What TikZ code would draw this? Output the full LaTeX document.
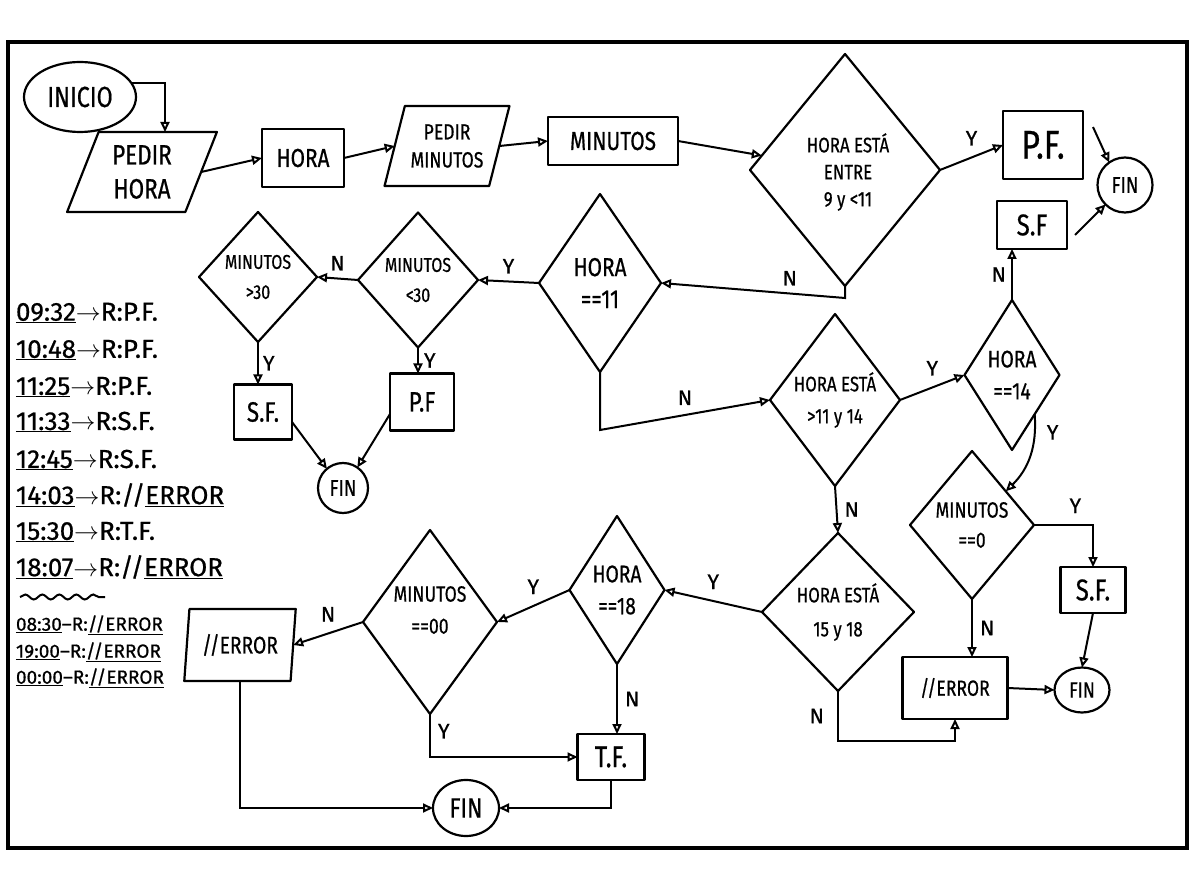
\documentclass[tikz,border=0pt]{standalone}
\usepackage{fontspec}
\setmainfont{Fira Sans}[FakeBold=0.6]
\newfontfamily\cond{Fira Sans}[FakeStretch=0.8, FakeBold=0.6]
\usetikzlibrary{shapes.geometric, arrows.meta, decorations.pathmorphing}
\newcommand\myfs[2]{\fontsize{#1}{#2}\selectfont}
\begin{document}
\begin{tikzpicture}[x=1pt,y=-1pt,
  every node/.style={inner sep=0pt, outer sep=0pt},
  shp/.style={draw, line width=2.2pt, line join=round},
  dia/.style={shp, diamond},
  box/.style={shp, rectangle},
  para/.style={shp, trapezium, trapezium stretches=true, trapezium left angle=68, trapezium right angle=112},
  term/.style={shp, ellipse},
  arr/.style={line width=2pt, -{Triangle[open, length=10pt, width=9pt]}},
  lab/.style={font=\myfs{21}{21}},
  dtxt/.style={align=center},
  lst/.style={anchor=west, font=\myfs{26}{26}},
  lst2/.style={anchor=west, font=\myfs{19}{19}},
]
\fill[white] (0,0) rectangle (1200,874);
\useasboundingbox (0,0) rectangle (1200,874);
\draw[line width=3.5pt] (8,42) rectangle (1187,848);

% top row
\node[term, minimum width=112pt, minimum height=70pt, font=\cond\myfs{29}{32}] (ini) at (80,97) {INICIO};
\node[para, minimum width=150pt, minimum height=80pt, align=center, font=\cond\myfs{28}{34}] (ph) at (142,172) {PEDIR\\HORA};
\node[box, minimum width=82pt, minimum height=58pt, font=\cond\myfs{26}{26}] (hora) at (303,158) {HORA};
\node[para, minimum width=125pt, minimum height=80pt, align=center, font=\cond\myfs{22}{28}] (pm) at (447,146) {PEDIR\\MINUTOS};
\node[box, minimum width=130pt, minimum height=48pt, font=\cond\myfs{26}{26}] (min) at (613,141) {MINUTOS};
\node[dia, minimum width=190pt, minimum height=232pt] (d1) at (845,170) {};
\node[dtxt, font=\cond\myfs{21}{27}] (d1t) at (848,172) {HORA ESTÁ\\ENTRE\\9 y <11};
\node[box, minimum width=80pt, minimum height=68pt, font=\cond\myfs{40}{40}] (pf1) at (1043,145) {P.F.};
\node[term, minimum width=55pt, minimum height=55pt, font=\cond\myfs{23}{23}] (fin1) at (1125,185) {FIN};
\node[box, minimum width=70pt, minimum height=48pt, font=\cond\myfs{30}{30}] (sf1) at (1032,225) {S.F};

% second row left
\node[dia, minimum width=122pt, minimum height=178pt] (h11) at (600,283) {};
\node[dtxt, font=\cond\myfs{26}{32}] (h11t) at (h11) {HORA\\==11};
\node[dia, minimum width=120pt, minimum height=135pt] (m30l) at (418,280) {};
\node[dtxt, font=\cond\myfs{20}{30}] (m30lt) at (m30l) {MINUTOS\\<30};
\node[dia, minimum width=118pt, minimum height=130pt] (m30g) at (258,277) {};
\node[dtxt, font=\cond\myfs{20}{30}] (m30gt) at (m30g) {MINUTOS\\>30};
\node[box, minimum width=58pt, minimum height=55pt, font=\cond\myfs{28}{28}] (sf2) at (263,412) {S.F.};
\node[box, minimum width=64pt, minimum height=57pt, font=\cond\myfs{28}{28}] (pf2) at (422,402) {P.F};
\node[term, minimum width=50pt, minimum height=50pt, font=\cond\myfs{23}{23}] (fin2) at (343,488) {FIN};

% middle right
\node[dia, minimum width=130pt, minimum height=172pt] (d2) at (835,400) {};
\node[dtxt, font=\cond\myfs{21}{32}] (d2t) at (d2) {HORA ESTÁ\\>11 y 14};
\node[dia, minimum width=95pt, minimum height=150pt] (h14) at (1012,375) {};
\node[dtxt, font=\cond\myfs{24}{32}] (h14t) at (h14) {HORA\\==14};
\node[dia, minimum width=124pt, minimum height=148pt] (m0) at (972,525) {};
\node[dtxt, font=\cond\myfs{22}{30}] (m0t) at (m0) {MINUTOS\\==0};
\node[box, minimum width=65pt, minimum height=46pt, font=\cond\myfs{30}{30}] (sf3) at (1093,590) {S.F.};
\node[term, minimum width=55pt, minimum height=45pt, font=\cond\myfs{22}{22}] (fin3) at (1082,690) {FIN};
\node[box, minimum width=105pt, minimum height=62pt, font=\cond\myfs{22}{22}] (err1) at (955,688) {//ERROR};

% bottom row
\node[dia, minimum width=152pt, minimum height=158pt] (d3) at (838,612) {};
\node[dtxt, font=\cond\myfs{21}{34}] (d3t) at (d3) {HORA ESTÁ\\15 y 18};
\node[dia, minimum width=95pt, minimum height=148pt] (h18) at (617,590) {};
\node[dtxt, font=\cond\myfs{24}{32}] (h18t) at (h18) {HORA\\==18};
\node[dia, minimum width=134pt, minimum height=184pt] (m00) at (430,622) {};
\node[dtxt, font=\cond\myfs{22}{32}] (m00t) at ([yshift=12pt]m00.center) {MINUTOS\\==00};
\node[shp, trapezium, trapezium stretches=true, trapezium left angle=80, trapezium right angle=100, minimum width=112pt, minimum height=72pt, font=\cond\myfs{24}{24}] (err2) at (240,645) {//ERROR};
\node[box, minimum width=67pt, minimum height=46pt, font=\cond\myfs{30}{30}] (tf) at (611,757) {T.F.};
\node[term, minimum width=66pt, minimum height=56pt, font=\cond\myfs{28}{28}] (fin4) at (466,808) {FIN};

% connectors
\draw[arr] (ini.15) -| ([xshift=23pt]ph.north);
\draw[arr] (ph.east) -- (hora.west);
\draw[arr] (hora.east) -- (pm.west);
\draw[arr] (pm.east) -- (min.west);
\draw[arr] (min.east) -- (d1);
\draw[arr] (d1.east) -- node[lab, above=12pt] (ly1) {Y} (pf1.west);
\draw[arr] ([shift={(10pt,-16pt)}]pf1.north east) -- (fin1.125);
\draw[arr] ([shift={(8pt,-10pt)}]sf1.east) -- (fin1.225);
\draw[arr] (h14.north) -- node[lab, left=6pt] (ln1) {N} (h14.north |- sf1.south);
\draw[arr] (d1.south) -- ++(0,12) -- node[lab, above=8pt, pos=0.3] (ln2) {N} (h11.east);
\draw[arr] (h11.west) -- node[lab, above=8pt] (ly2) {Y} (m30l.east);
\draw[arr] (m30l.west) -- node[lab, above=8pt] (ln3) {N} (m30g.east);
\draw[arr] (m30g.south) -- node[lab, right=5pt] (ly3) {Y} (m30g.south |- sf2.north);
\draw[arr] (m30l.south) -- node[lab, right=6pt] (ly4) {Y} (m30l.south |- pf2.north);
\draw[arr] ([yshift=-10pt]sf2.east) -- (fin2.130);
\draw[arr] ([yshift=-12pt]pf2.west) -- (fin2.55);
\draw[arr] (h11.south) -- ++(0,58) -- node[lab, above=10pt] (ln4) {N} (d2.west);
\draw[arr] (d2.east) -- node[lab, above=12pt] (ly5) {Y} (h14.west);
\draw[arr] (h14.-60) to[bend left=25] node[lab, right=12pt, pos=0.2] (ly6) {Y} (m0.45);
\draw[arr] (m0.east) -| node[lab, above=12pt, pos=0.35] (ly7) {Y} (sf3.north);
\draw[arr] (sf3.south) -- (fin3.north);
\draw[arr] (m0.south) -- node[lab, right=8pt] (ln5) {N} (m0.south |- err1.north);
\draw[arr] (err1.east) -- (fin3.west);
\draw[arr] (d2.south) -- node[lab, right=8pt] (ln6) {N} (d3.north);
\draw[arr] (d3.south) -- node[lab, left=14pt] (ln7) {N} ++(0,50) -| (err1.south);
\draw[arr] (d3.west) -- node[lab, above=12pt] (ly8) {Y} (h18.east);
\draw[arr] (h18.west) -- node[lab, above=12pt] (ly9) {Y} (m00.east);
\draw[arr] (m00.west) -- node[lab, above=12pt] (ln8) {N} (err2.east);
\draw[arr] (m00.south) |- node[lab, right=8pt, pos=0.2] (ly10) {Y} (tf.west);
\draw[arr] (h18.south) -- node[lab, right=8pt] (ln9) {N} (h18.south |- tf.north);
\draw[arr] (err2.south) |- (fin4.west);
\draw[arr] (tf.south) |- (fin4.east);

% left list
\node[lst] (l1) at (16,313) {\underline{09:32}$\rightarrow$R:P.F.};
\node[lst] (l2) at (16,350) {\underline{10:48}$\rightarrow$R:P.F.};
\node[lst] (l3) at (16,387) {\underline{11:25}$\rightarrow$R:P.F.};
\node[lst] (l4) at (16,422) {\underline{11:33}$\rightarrow$R:S.F.};
\node[lst] (l5) at (16,460) {\underline{12:45}$\rightarrow$R:S.F.};
\node[lst] (l6) at (16,495) {\underline{14:03}$\rightarrow$R://\underline{ERROR}};
\node[lst] (l7) at (16,532) {\underline{15:30}$\rightarrow$R:T.F.};
\node[lst] (l8) at (16,567) {\underline{18:07}$\rightarrow$R://\underline{ERROR}};
\draw[line width=2pt, decorate, decoration={snake, amplitude=2.5pt, segment length=17pt}] (20,597) -- (105,597);
\node[lst2] (l9) at (16,625) {\underline{08:30}--R:\underline{//ERROR}};
\node[lst2] (l10) at (16,652) {\underline{19:00}--R:\underline{//ERROR}};
\node[lst2] (l11) at (16,678) {\underline{00:00}--R:\underline{//ERROR}};
\end{tikzpicture}
\end{document}
